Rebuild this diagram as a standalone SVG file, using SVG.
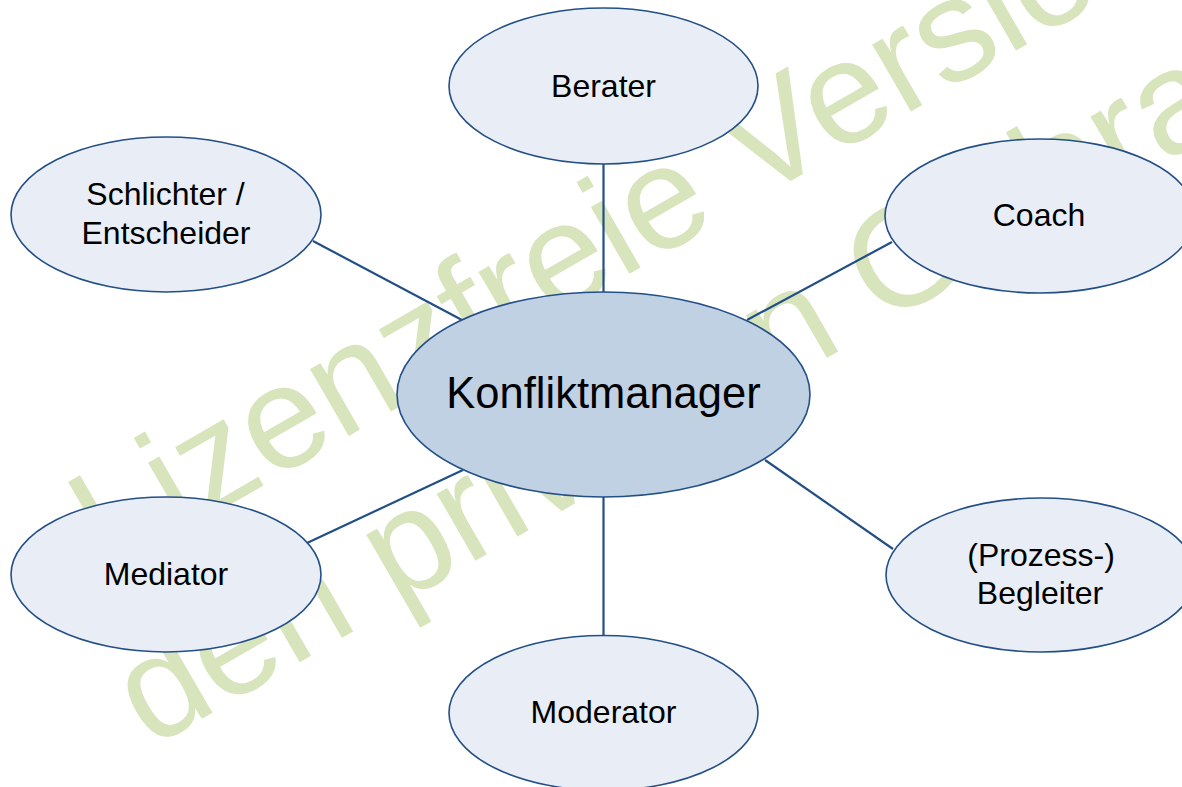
<svg xmlns="http://www.w3.org/2000/svg" width="1182" height="787" viewBox="0 0 1182 787">
  <style>
    .wm { font-family: "Liberation Sans", Arial, sans-serif; font-size: 146px; fill: #d8e4bc; }
    .node { fill: #e9eef6; stroke: #234f87; stroke-width: 1.6; }
    .hub { fill: #c1d1e4; stroke: #234f87; stroke-width: 1.6; }
    .lbl { font-family: "Liberation Sans", Arial, sans-serif; font-size: 32px; fill: #000; text-anchor: middle; }
    .hublbl { font-family: "Liberation Sans", Arial, sans-serif; font-size: 43.5px; fill: #000; text-anchor: middle; }
    .edge { stroke: #234f87; stroke-width: 2.2; fill: none; }
  </style>
  <rect width="1182" height="787" fill="#ffffff"/>

  <!-- watermark -->
  <g id="watermark" transform="translate(108,575) rotate(-30)">
    <text class="wm" x="0" y="0">Lizenzfreie Version für</text>
    <text class="wm" x="-50" y="171.5">den privaten Gebrauch</text>
  </g>

  <!-- connectors -->
  <g id="connectors">
    <line class="edge" x1="603.5" y1="164" x2="603.5" y2="292"/>
    <line class="edge" x1="313" y1="241" x2="462" y2="320"/>
    <line class="edge" x1="892" y1="242" x2="747" y2="320"/>
    <line class="edge" x1="307" y1="543" x2="463" y2="470"/>
    <line class="edge" x1="765" y1="460" x2="893" y2="549"/>
    <line class="edge" x1="603.5" y1="497" x2="603.5" y2="636"/>
  </g>

  <g id="berater">
    <ellipse class="node" cx="603.5" cy="86" rx="154.5" ry="78"/>
    <text class="lbl" x="603.5" y="97">Berater</text>
  </g>
  <g id="schlichter">
    <ellipse class="node" cx="166" cy="214.5" rx="155" ry="77.5"/>
    <text class="lbl" x="165.5" y="205">Schlichter /</text>
    <text class="lbl" x="166" y="244">Entscheider</text>
  </g>
  <g id="coach">
    <ellipse class="node" cx="1040" cy="216" rx="155" ry="77"/>
    <text class="lbl" x="1039" y="226">Coach</text>
  </g>
  <g id="konfliktmanager">
    <ellipse class="hub" cx="603.5" cy="394.5" rx="206.5" ry="102.5"/>
    <text class="hublbl" x="603.5" y="408">Konfliktmanager</text>
  </g>
  <g id="mediator">
    <ellipse class="node" cx="166" cy="574.5" rx="155" ry="77.5"/>
    <text class="lbl" x="166" y="585">Mediator</text>
  </g>
  <g id="begleiter">
    <ellipse class="node" cx="1041" cy="575" rx="155" ry="77"/>
    <text class="lbl" x="1041" y="566">(Prozess-)</text>
    <text class="lbl" x="1040" y="604">Begleiter</text>
  </g>
  <g id="moderator">
    <ellipse class="node" cx="603.5" cy="713" rx="154.5" ry="77.5"/>
    <text class="lbl" x="603.5" y="723">Moderator</text>
  </g>
</svg>
